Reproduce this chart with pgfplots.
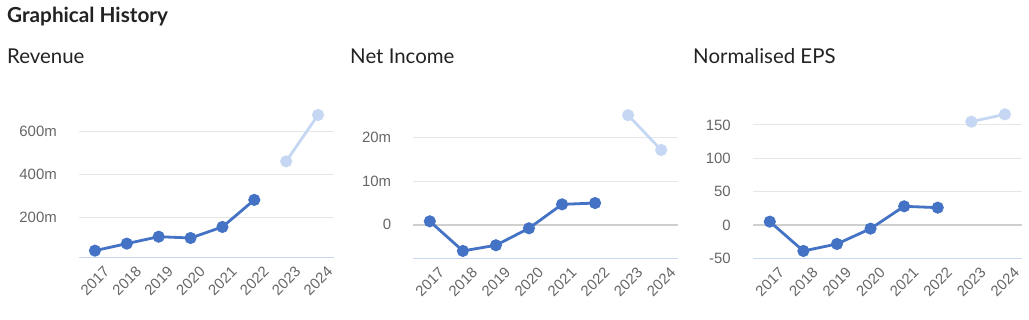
\documentclass[border=0pt]{standalone}
\usepackage{fontspec}
\setmainfont{Lato}
\newfontfamily\tickfont{Liberation Sans}
\usepackage{pgfplots}
\pgfplotsset{compat=1.18}
\definecolor{dark}{HTML}{4472C4}
\definecolor{light}{HTML}{C5D7F3}
\definecolor{gridc}{HTML}{E6E6E6}
\definecolor{zeroc}{HTML}{CFCFCF}
\definecolor{basec}{HTML}{C9D8F2}
\definecolor{tickc}{HTML}{666666}
\definecolor{titlec}{HTML}{222222}
\pgfplotsset{panel/.style={
  scale only axis, clip=false, axis line style={draw=none},
  xmin=-0.5, xmax=7.5, xtick={0,1,2,3,4,5,6,7},
  xticklabels={2017,2018,2019,2020,2021,2022,2023,2024},
  major tick length=0pt, tick style={draw=none},
  ymajorgrids, grid style={gridc, line width=1bp},
  x tick label style={rotate=45, anchor=center, inner sep=0pt, xshift=-16.5bp, yshift=-16.5bp, font=\tickfont\fontsize{15}{15}\selectfont, text=tickc},
  y tick label style={anchor=east, inner sep=0pt, xshift=-22bp, font=\tickfont\fontsize{15}{15}\selectfont, text=tickc},
  /pgf/number format/assume math mode=true,
  every axis plot/.append style={line width=2.8bp, mark=*, mark size=4.6bp},
  extra y tick style={grid style={zeroc, line width=1.5bp}},
}}
\begin{document}
\begin{tikzpicture}
\useasboundingbox (0,0) rectangle (1029bp,320bp);
\node[anchor=base west, inner sep=0pt, text=titlec, font=\bfseries\fontsize{20.8}{20.8}\selectfont] at (7bp,297bp) {Graphical History};
\node[anchor=base west, inner sep=0pt, text=titlec, font=\fontsize{20.5}{20.5}\selectfont] at (7bp,256.7bp) {Revenue};
\node[anchor=base west, inner sep=0pt, text=titlec, font=\fontsize{20.5}{20.5}\selectfont] at (350bp,256.7bp) {Net Income};
\node[anchor=base west, inner sep=0pt, text=titlec, font=\fontsize{20.5}{20.5}\selectfont] at (693bp,256.7bp) {Normalised EPS};

% Revenue
\begin{axis}[panel, at={(79bp,62.3bp)}, anchor=south west,
  width=255bp, height=157bp, ymin=15, ymax=740,
  ytick={200,400,600}, yticklabels={200m,400m,600m}]
\addplot[dark, mark options={fill=dark, draw=dark}] coordinates {(0,47.6) (1,80) (2,112) (3,106) (4,157) (5,282)};
\addplot[light, mark options={fill=light, draw=light}] coordinates {(6,460) (7,674)};
\draw[basec, line width=1bp] (rel axis cs:0,0) -- (rel axis cs:1,0);
\end{axis}

% Net Income
\begin{axis}[panel, at={(413.3bp,61.7bp)}, anchor=south west,
  width=264.4bp, height=164bp, ymin=-7.7, ymax=30,
  ytick={10,20}, yticklabels={10m,20m},
  extra y ticks={0}, extra y tick labels={0}]
\addplot[dark, mark options={fill=dark, draw=dark}] coordinates {(0,0.8) (1,-6.0) (2,-4.7) (3,-0.8) (4,4.7) (5,5.0)};
\addplot[light, mark options={fill=light, draw=light}] coordinates {(6,25.2) (7,17.2)};
\draw[basec, line width=1bp] (rel axis cs:0,0) -- (rel axis cs:1,0);
\end{axis}

% Normalised EPS
\begin{axis}[panel, at={(753bp,61.7bp)}, anchor=south west,
  width=268.7bp, height=153.3bp, ymin=-50, ymax=180,
  ytick={-50,50,100,150}, yticklabels={-50,50,100,150},
  extra y ticks={0}, extra y tick labels={0}]
\addplot[dark, mark options={fill=dark, draw=dark}] coordinates {(0,5) (1,-39) (2,-28.5) (3,-5.5) (4,28) (5,26)};
\addplot[light, mark options={fill=light, draw=light}] coordinates {(6,155) (7,166)};
\draw[basec, line width=1bp] (rel axis cs:0,0) -- (rel axis cs:1,0);
\end{axis}
\end{tikzpicture}
\end{document}
